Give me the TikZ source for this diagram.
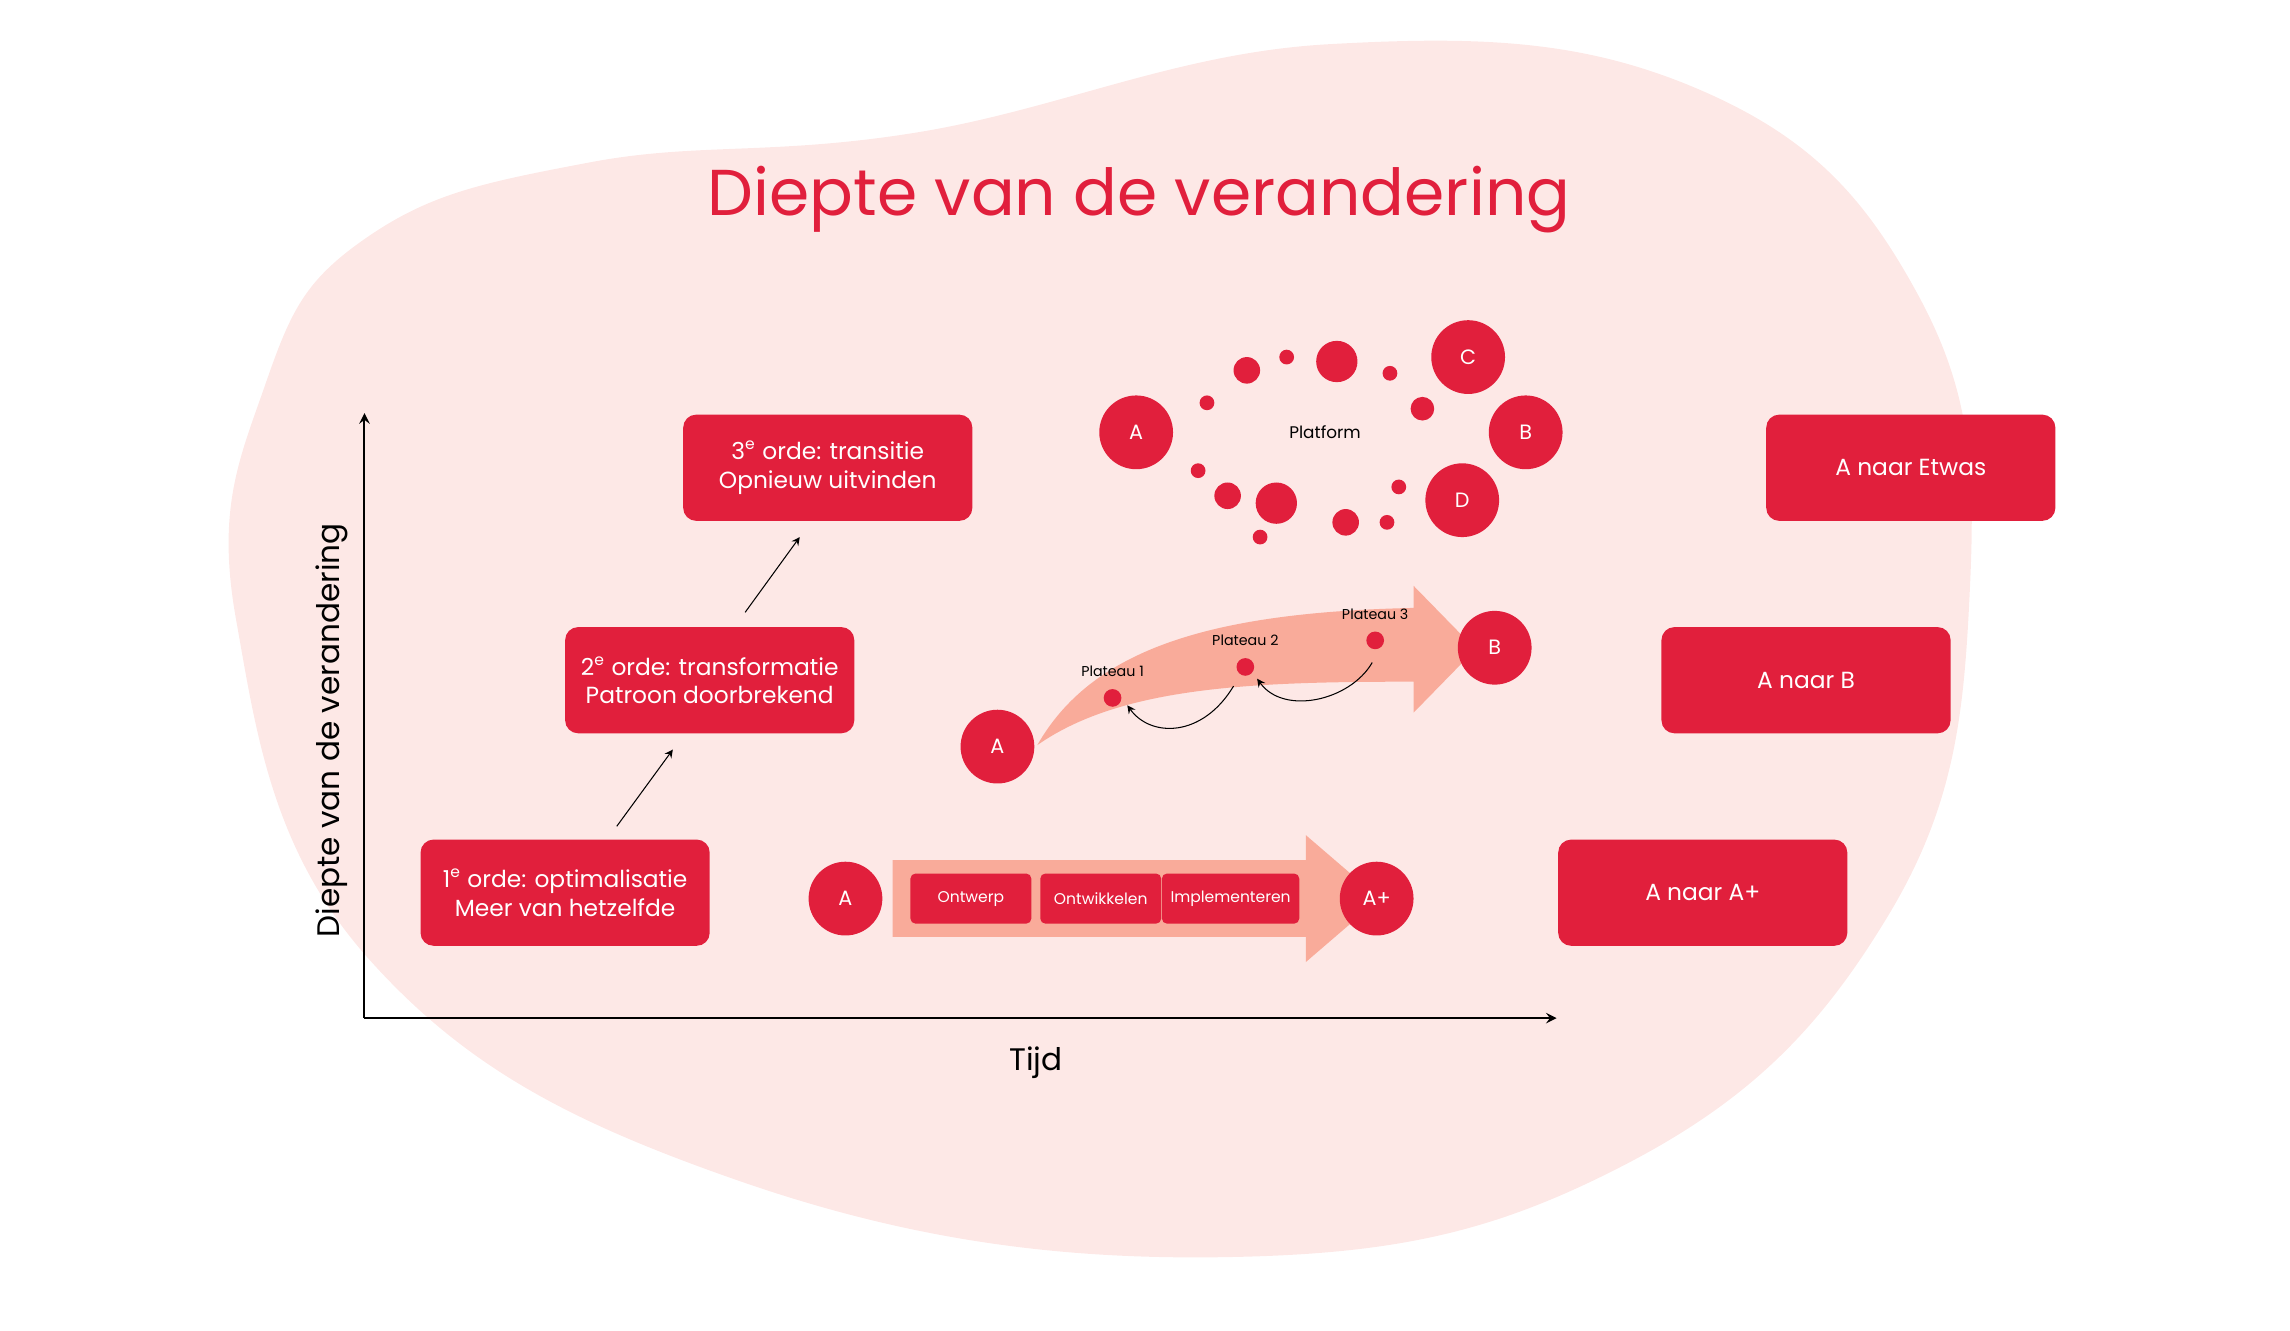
\documentclass[tikz,border=0pt]{standalone}
\usepackage{fontspec}
\setmainfont{Poppins}
\usetikzlibrary{positioning}
\definecolor{rood}{HTML}{E11F3C}
\definecolor{blob}{HTML}{FDE8E6}
\definecolor{zalm}{HTML}{F9AB9A}
\tikzset{
  orde/.style={fill=rood,rounded corners=5pt,minimum width=3.92cm,minimum height=1.44cm,
    text=white,align=center,font=\fontsize{9}{11}\selectfont},
  stap/.style={fill=rood,rounded corners=2pt,minimum width=1.64cm,minimum height=0.68cm,
    text=white,font=\fontsize{6}{7}\selectfont},
  punt/.style={circle,fill=rood,minimum size=1cm,inner sep=0pt,text=white,font=\fontsize{8}{9}\selectfont},
  stip/.style={circle,fill=rood,inner sep=0pt},
  lbl/.style={font=\fontsize{5.5}{6}\selectfont}
}
\begin{document}
\begin{tikzpicture}[x=0.02cm,y=-0.02cm]
  \useasboundingbox (0,0) rectangle (1552,902);
  % achtergrond
  \fill[blob] plot[smooth cycle,tension=0.7] coordinates {(250,160) (400,110) (620,90) (900,30) (1150,60)
    (1300,200) (1335,400) (1280,620) (1100,790) (830,852) (500,800) (250,650) (160,420) (180,260)};
  \node[text=rood,font=\fontsize{25}{28}\selectfont] (titel) at (772,135) {Diepte van de verandering};
  % assen
  \coordinate (o) at (247,690);
  \coordinate (ytop) at (247,280);
  \coordinate (xend) at (1055,690);
  \draw[thick,->,>=stealth] (o) -- (ytop);
  \draw[thick,->,>=stealth] (o) -- (xend);
  \node[rotate=90,font=\fontsize{12}{14}\selectfont] (ylab) at (225,495) {Diepte van de verandering};
  \node[font=\fontsize{12}{14}\selectfont] (xlab) at (702,720) {Tijd};
  % ordes
  \node[orde] (o1) at (383,605) {1\textsuperscript{e} orde: optimalisatie\\Meer van hetzelfde};
  \node[orde] (o2) at (481,461) {2\textsuperscript{e} orde: transformatie\\Patroon doorbrekend};
  \node[orde] (o3) at (561,317) {3\textsuperscript{e} orde: transitie\\Opnieuw uitvinden};
  \draw[->,>=stealth] (418,560) -- (456,508);
  \draw[->,>=stealth] (505,415) -- (542,364);
  \node[orde] (r1) at (1154,605) {A naar A+};
  \node[orde] (r2) at (1224,461) {A naar B};
  \node[orde] (r3) at (1295,317) {A naar Etwas};
  % eerste orde
  \fill[zalm] (605,583) -- (885,583) -- (885,566) -- (935,609) -- (885,652) -- (885,635) -- (605,635) -- cycle;
  \node[punt] (a1) at (573,609) {A};
  \node[punt] (a1plus) at (933,609) {A+};
  \node[stap] (ontwerp) at (658,609) {Ontwerp};
  \node[stap] (ontw) at (746,609) {Ontwikkelen};
  \node[stap] (impl) at (834,609) {Implementeren};
  % tweede orde
  \fill[zalm] (703,505) .. controls (760,465) and (850,462) .. (958,462) -- (958,483) -- (1000,440)
    -- (958,397) -- (958,412) .. controls (820,415) and (740,440) .. (703,505) -- cycle;
  \node[punt] (a2) at (676,506) {A};
  \node[punt] (b2) at (1013,439) {B};
  \node[stip,minimum size=12pt*0.02/0.0352] (p1) at (754,473) {};
  \node[stip,minimum size=12pt*0.02/0.0352] (p2) at (844,452) {};
  \node[stip,minimum size=12pt*0.02/0.0352] (p3) at (932,434) {};
  \node[lbl,above=1pt of p1] {Plateau 1};
  \node[lbl,above=1pt of p2] {Plateau 2};
  \node[lbl,above=1pt of p3] {Plateau 3};
  \draw[->,>=stealth] (836,465) .. controls (815,500) and (780,500) .. (764,478);
  \draw[->,>=stealth] (930,449) .. controls (915,475) and (870,485) .. (852,460);
  % derde orde
  \node[punt] (a3) at (770,293) {A};
  \node[punt] (c3) at (995,242) {C};
  \node[punt] (b3) at (1034,293) {B};
  \node[punt] (d3) at (991,339) {D};
  \node[font=\fontsize{6.5}{7}\selectfont] (platform) at (898,293) {Platform};
  \foreach \x/\y/\r in {845/251/9, 872/242/5, 906/245/14, 942/253/5, 964/277/8, 818/273/5,
      812/319/5, 832/336/9, 865/341/14, 854/364/5, 912/354/9, 948/330/5, 940/354/5}
    \fill[rood] (\x,\y) circle[radius=\r*0.02cm];
\end{tikzpicture}
\end{document}
